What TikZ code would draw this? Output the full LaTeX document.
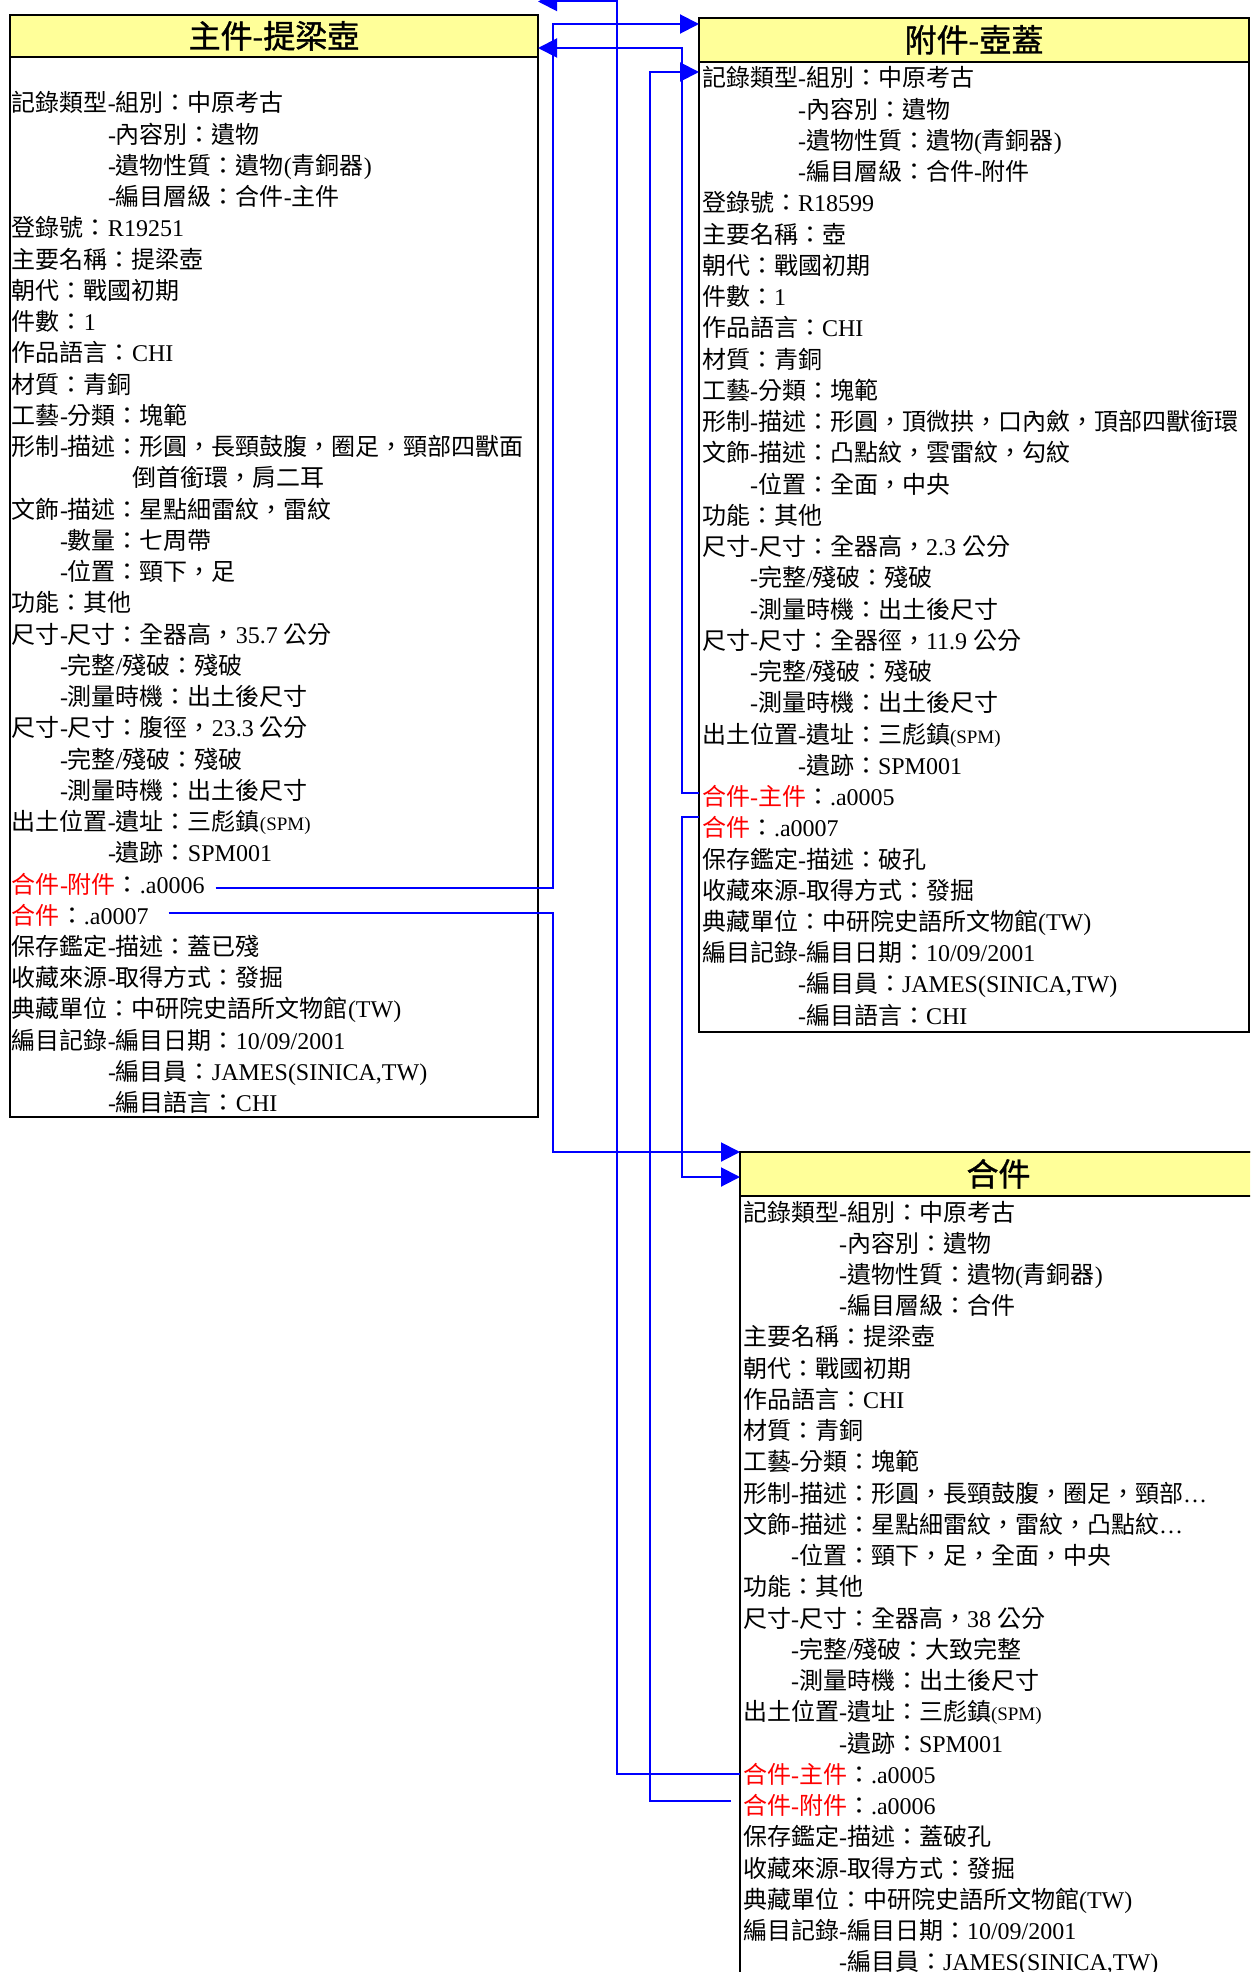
\documentclass[tikz,border=0pt]{standalone}
\usepackage{fontspec}
\setmainfont{Liberation Serif}
\newfontfamily\cjkfont{Noto Sans CJK TC}
\newfontfamily\cjktitlefont{Noto Sans CJK TC}[FakeBold=1.2]
\usetikzlibrary{arrows.meta,calc}

% automatic switch between the Latin and the CJK font
\let\curcjk\cjkfont
\XeTeXinterchartokenstate=1
\chardef\cjkcls=100
\newcount\cjkctr
\cjkctr="2E80
\loop
  \XeTeXcharclass\cjkctr=\cjkcls
  \advance\cjkctr by 1
\ifnum\cjkctr<"A000 \repeat
\cjkctr="FF00
\loop
  \XeTeXcharclass\cjkctr=\cjkcls
  \advance\cjkctr by 1
\ifnum\cjkctr<"FFF0 \repeat
\XeTeXinterchartoks 0 \cjkcls = {\curcjk}
\XeTeXinterchartoks 1 \cjkcls = {\curcjk}
\XeTeXinterchartoks 2 \cjkcls = {\curcjk}
\XeTeXinterchartoks 3 \cjkcls = {\curcjk}
\XeTeXinterchartoks 4095 \cjkcls = {\curcjk}
\XeTeXinterchartoks \cjkcls 0 = {\rmfamily}
\XeTeXinterchartoks \cjkcls 1 = {\rmfamily}
\XeTeXinterchartoks \cjkcls 2 = {\rmfamily}
\XeTeXinterchartoks \cjkcls 3 = {\rmfamily}
\XeTeXinterchartoks \cjkcls 4095 = {\rmfamily}

\definecolor{titleyellow}{RGB}{255,255,153}
\definecolor{linkblue}{RGB}{0,0,255}
\definecolor{linkred}{RGB}{255,0,0}

\newcommand\rd[1]{\textcolor{linkred}{#1}}
\newcommand\spm{{\fontsize{19}{20}\selectfont(SPM)}}
\newcommand\elps{{\rmfamily …}}
\newcommand\Lrow[3]{\node[rowtext] (L#1) at ({12+#2},{103+31.24*#1}) {#3};}
\newcommand\Rrow[3]{\node[rowtext] (R#1) at ({702+#2},{78+31.24*#1}) {#3};}
\newcommand\Brow[3]{\node[rowtext] (B#1) at ({743+#2},{1212+31.24*#1}) {#3};}

\tikzset{
  rowtext/.style={anchor=west, inner sep=0pt, outer sep=0pt,
    font=\fontsize{24}{28}\selectfont, text height=21pt, text depth=3pt},
  boxbody/.style={draw=black, line width=2.5pt, fill=white, inner sep=0pt,
    outer sep=0pt, anchor=north west},
  titlebar/.style={draw=black, line width=2.5pt, fill=titleyellow, inner sep=0pt,
    outer sep=0pt, anchor=north west,
    font=\let\curcjk\cjktitlefont\fontsize{32}{36}\selectfont,
    text height=28pt, text depth=4pt},
  conn/.style={draw=linkblue, line width=2pt},
  arr/.style={-{Triangle[length=19pt,width=19pt]}},
}

\begin{document}
\begin{tikzpicture}[x=1pt,y=-1pt]
\path[use as bounding box] (0,0) rectangle (1250,1972);
\clip (0,0) rectangle (1250,1972);

% ---------- boxes ----------
\node[boxbody, minimum width=528, minimum height=1102] (Lbox) at (10,15) {};
\node[titlebar, minimum width=528, minimum height=42] (Ltitle) at (10,15) {主件-提梁壺};
\node[boxbody, minimum width=550, minimum height=1014] (Rbox) at (699,18) {};
\node[titlebar, minimum width=550, minimum height=44] (Rtitle) at (699,18) {附件-壺蓋};
\node[boxbody, minimum width=517, minimum height=900] (Bbox) at (740,1152) {};
\node[titlebar, minimum width=517, minimum height=44] (Btitle) at (740,1152) {合件};

% ---------- left box ----------
\Lrow{0}{0}{記錄類型-組別：中原考古}
\Lrow{1}{96}{-內容別：遺物}
\Lrow{2}{96}{-遺物性質：遺物(青銅器)}
\Lrow{3}{96}{-編目層級：合件-主件}
\Lrow{4}{0}{登錄號：R19251}
\Lrow{5}{0}{主要名稱：提梁壺}
\Lrow{6}{0}{朝代：戰國初期}
\Lrow{7}{0}{件數：1}
\Lrow{8}{0}{作品語言：CHI}
\Lrow{9}{0}{材質：青銅}
\Lrow{10}{0}{工藝-分類：塊範}
\Lrow{11}{0}{形制-描述：形圓，長頸鼓腹，圈足，頸部四獸面}
\Lrow{12}{120}{倒首銜環，肩二耳}
\Lrow{13}{0}{文飾-描述：星點細雷紋，雷紋}
\Lrow{14}{48}{-數量：七周帶}
\Lrow{15}{48}{-位置：頸下，足}
\Lrow{16}{0}{功能：其他}
\Lrow{17}{0}{尺寸-尺寸：全器高，35.7 公分}
\Lrow{18}{48}{-完整/殘破：殘破}
\Lrow{19}{48}{-測量時機：出土後尺寸}
\Lrow{20}{0}{尺寸-尺寸：腹徑，23.3 公分}
\Lrow{21}{48}{-完整/殘破：殘破}
\Lrow{22}{48}{-測量時機：出土後尺寸}
\Lrow{23}{0}{出土位置-遺址：三彪鎮\spm}
\Lrow{24}{96}{-遺跡：SPM001}
\Lrow{25}{0}{\rd{合件-附件}：.a0006}
\Lrow{26}{0}{\rd{合件}：.a0007}
\Lrow{27}{0}{保存鑑定-描述：蓋已殘}
\Lrow{28}{0}{收藏來源-取得方式：發掘}
\Lrow{29}{0}{典藏單位：中研院史語所文物館(TW)}
\Lrow{30}{0}{編目記錄-編目日期：10/09/2001}
\Lrow{31}{96}{-編目員：JAMES(SINICA,TW)}
\Lrow{32}{96}{-編目語言：CHI}

% ---------- right box ----------
\Rrow{0}{0}{記錄類型-組別：中原考古}
\Rrow{1}{96}{-內容別：遺物}
\Rrow{2}{96}{-遺物性質：遺物(青銅器)}
\Rrow{3}{96}{-編目層級：合件-附件}
\Rrow{4}{0}{登錄號：R18599}
\Rrow{5}{0}{主要名稱：壺}
\Rrow{6}{0}{朝代：戰國初期}
\Rrow{7}{0}{件數：1}
\Rrow{8}{0}{作品語言：CHI}
\Rrow{9}{0}{材質：青銅}
\Rrow{10}{0}{工藝-分類：塊範}
\Rrow{11}{0}{形制-描述：形圓，頂微拱，口內斂，頂部四獸銜環}
\Rrow{12}{0}{文飾-描述：凸點紋，雲雷紋，勾紋}
\Rrow{13}{48}{-位置：全面，中央}
\Rrow{14}{0}{功能：其他}
\Rrow{15}{0}{尺寸-尺寸：全器高，2.3 公分}
\Rrow{16}{48}{-完整/殘破：殘破}
\Rrow{17}{48}{-測量時機：出土後尺寸}
\Rrow{18}{0}{尺寸-尺寸：全器徑，11.9 公分}
\Rrow{19}{48}{-完整/殘破：殘破}
\Rrow{20}{48}{-測量時機：出土後尺寸}
\Rrow{21}{0}{出土位置-遺址：三彪鎮\spm}
\Rrow{22}{96}{-遺跡：SPM001}
\Rrow{23}{0}{\rd{合件-主件}：.a0005}
\Rrow{24}{0}{\rd{合件}：.a0007}
\Rrow{25}{0}{保存鑑定-描述：破孔}
\Rrow{26}{0}{收藏來源-取得方式：發掘}
\Rrow{27}{0}{典藏單位：中研院史語所文物館(TW)}
\Rrow{28}{0}{編目記錄-編目日期：10/09/2001}
\Rrow{29}{96}{-編目員：JAMES(SINICA,TW)}
\Rrow{30}{96}{-編目語言：CHI}

% ---------- bottom box ----------
\Brow{0}{0}{記錄類型-組別：中原考古}
\Brow{1}{96}{-內容別：遺物}
\Brow{2}{96}{-遺物性質：遺物(青銅器)}
\Brow{3}{96}{-編目層級：合件}
\Brow{4}{0}{主要名稱：提梁壺}
\Brow{5}{0}{朝代：戰國初期}
\Brow{6}{0}{作品語言：CHI}
\Brow{7}{0}{材質：青銅}
\Brow{8}{0}{工藝-分類：塊範}
\Brow{9}{0}{形制-描述：形圓，長頸鼓腹，圈足，頸部\elps}
\Brow{10}{0}{文飾-描述：星點細雷紋，雷紋，凸點紋\elps}
\Brow{11}{48}{-位置：頸下，足，全面，中央}
\Brow{12}{0}{功能：其他}
\Brow{13}{0}{尺寸-尺寸：全器高，38 公分}
\Brow{14}{48}{-完整/殘破：大致完整}
\Brow{15}{48}{-測量時機：出土後尺寸}
\Brow{16}{0}{出土位置-遺址：三彪鎮\spm}
\Brow{17}{96}{-遺跡：SPM001}
\Brow{18}{0}{\rd{合件-主件}：.a0005}
\Brow{19}{0}{\rd{合件-附件}：.a0006}
\Brow{20}{0}{保存鑑定-描述：蓋破孔}
\Brow{21}{0}{收藏來源-取得方式：發掘}
\Brow{22}{0}{典藏單位：中研院史語所文物館(TW)}
\Brow{23}{0}{編目記錄-編目日期：10/09/2001}
\Brow{24}{96}{-編目員：JAMES(SINICA,TW)}

% ---------- connectors ----------
\coordinate (cA) at (617,1.5);
\coordinate (cB) at (553,24);
\coordinate (cC) at (682,48);
\coordinate (cD) at (650,72);
\coordinate (cE) at (553,1152);
\coordinate (cF) at (682,1177);

\draw[conn,arr] (Bbox.west |- B18.west) -| (cA) -- (Lbox.east |- cA);
\draw[conn,arr] ($(L25.east)+(11,4)$) -| (cB) -- (Rbox.west |- cB);
\draw[conn,arr] ($(Rbox.west |- R23.west)+(0,-4)$) -| (cC) -- (Lbox.east |- cC);
\draw[conn,arr] ($(B19.west)+(-12,-5)$) -| (cD) -- (Rbox.west |- cD);
\draw[conn,arr] ($(L26.east)+(20,-2)$) -| (cE) -- (Bbox.west |- cE);
\draw[conn,arr] ($(Rbox.west |- R24.west)+(0,-11)$) -| (cF) -- (Bbox.west |- cF);
\end{tikzpicture}
\end{document}
